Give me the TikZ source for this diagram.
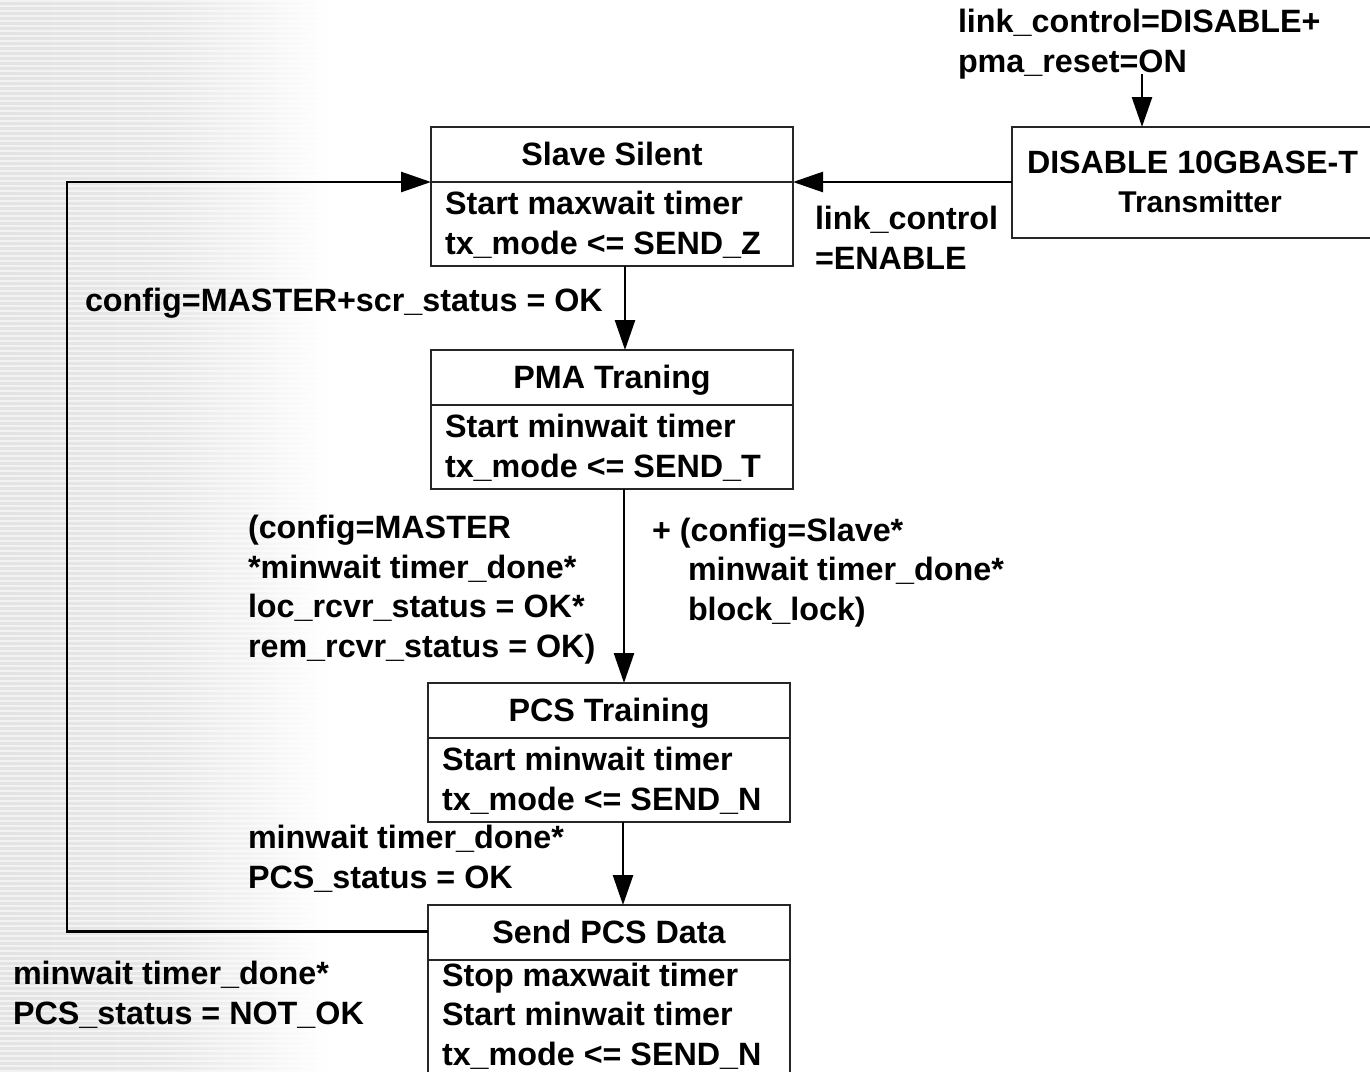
\documentclass[tikz,border=0pt]{standalone}
\usepackage{fontspec}
\setmainfont{Liberation Sans}
\usetikzlibrary{arrows.meta}
% soft grey band on the left edge
\pgfdeclarehorizontalshading{leftband}{100bp}{color(0bp)=(black!11); color(25bp)=(black!11); color(50bp)=(black!9); color(65bp)=(black!4); color(75bp)=(white); color(100bp)=(white)}
\begin{document}
\begin{tikzpicture}[x=0.5pt,y=-0.5pt,
  every node/.style={font=\bfseries\fontsize{16.15pt}{19.7pt}\selectfont, inner sep=0pt, outer sep=0pt},
  statebox/.style={draw=black!85, line width=0.8pt, rectangle, minimum width=181pt, minimum height=69.5pt},
  divider/.style={draw=black!85, line width=0.8pt},
  conn/.style={line width=1.3pt, -{Triangle[length=15pt,width=10pt]}},
  lbl/.style={anchor=base west, align=left},% placed at the baseline of the last line
  ttl/.style={anchor=base},
]
\clip (0,0) rectangle (1370,1071);
\fill[white] (0,0) rectangle (1370,1071);
\shade[shading=leftband] (0,0) rectangle (330,1071);
\foreach \y in {0,5,...,1070} \fill[white, opacity=0.55] (0,\y) rectangle (330,\y+2);

% columns used by the vertical transitions
\coordinate (colA) at (625,0);
\coordinate (colB) at (624,0);
\coordinate (colC) at (623,0);
\coordinate (loopx) at (67,0);
\coordinate (resetsrc) at (1142,74);

% states
\node[statebox] (slave) at (612,196.5) {};
\coordinate (slave-div) at ([yshift=-27.5pt]slave.north west);
\draw[divider] (slave-div) -- ([yshift=-27.5pt]slave.north east);
\node[ttl] (slave-t) at (612,165) {Slave Silent};
\node[lbl] (slave-b) at (445,254) {Start maxwait timer\\tx\_mode <= SEND\_Z};

\node[statebox] (pma) at (612,419.5) {};
\draw[divider] ([yshift=-27.5pt]pma.north west) -- ([yshift=-27.5pt]pma.north east);
\node[ttl] (pma-t) at (612,388) {PMA Traning};
\node[lbl] (pma-b) at (445,477) {Start minwait timer\\tx\_mode <= SEND\_T};

\node[statebox] (pcs) at (609,752.5) {};
\draw[divider] ([yshift=-27.5pt]pcs.north west) -- ([yshift=-27.5pt]pcs.north east);
\node[ttl] (pcs-t) at (609,721) {PCS Training};
\node[lbl] (pcs-b) at (442,810) {Start minwait timer\\tx\_mode <= SEND\_N};

\node[statebox, minimum height=100pt] (send) at (609,1005) {};
\draw[divider] ([yshift=-27.5pt]send.north west) -- ([yshift=-27.5pt]send.north east);
\node[ttl] (send-t) at (609,943) {Send PCS Data};
\node[lbl] (send-b) at (442,1065) {Stop maxwait timer\\Start minwait timer\\tx\_mode <= SEND\_N};

\node[statebox, minimum width=182pt, minimum height=55.5pt] (disable) at (1194,182.5) {};
\node[ttl, font=\bfseries\fontsize{16.1pt}{19pt}\selectfont] (disable-t) at (1192.5,173) {DISABLE 10GBASE-T};
\node[ttl, font=\bfseries\fontsize{15pt}{19pt}\selectfont] (disable-s) at (1200,212) {Transmitter};

% transitions
\draw[conn] (resetsrc) -- (disable.north -| resetsrc);
\draw[conn] (disable.west |- slave-div) -- (slave.east |- slave-div);
\draw[conn] (slave.south -| colA) -- (pma.north -| colA);
\draw[conn] (pma.south -| colB) -- (pcs.north -| colB);
\draw[conn] (pcs.south -| colC) -- (send.north -| colC);
\draw[conn] (send.west |- send-t) -- (loopx |- send-t) -- (loopx |- slave-div) -- (slave-div);

% transition conditions
\node[lbl] (c-reset) at (958,72) {link\_control=DISABLE+\\pma\_reset=ON};
\node[lbl] (c-enable) at (815,269) {link\_control\\=ENABLE};
\node[lbl] (c-master) at (85,311) {config=MASTER+scr\_status = OK};
\node[lbl] (c-train-l) at (248,657) {(config=MASTER\\*minwait timer\_done*\\loc\_rcvr\_status = OK*\\rem\_rcvr\_status = OK)};
\node[lbl] (c-train-r) at (652,620) {+ (config=Slave*\\\hspace*{18pt}minwait timer\_done*\\\hspace*{18pt}block\_lock)};
\node[lbl] (c-ok) at (248,888) {minwait timer\_done*\\PCS\_status = OK};
\node[lbl] (c-notok) at (13,1024) {minwait timer\_done*\\PCS\_status = NOT\_OK};
\end{tikzpicture}
\end{document}
